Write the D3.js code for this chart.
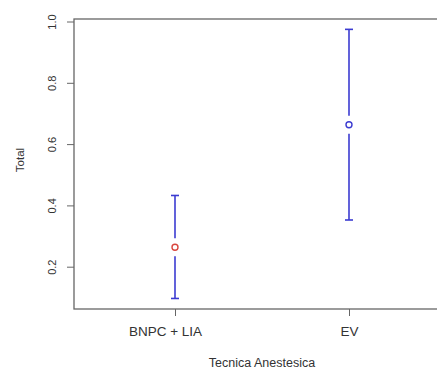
<!DOCTYPE html>
<html>
<head>
<meta charset="utf-8">
<script src="https://cdn.jsdelivr.net/npm/d3@7"></script>
<style>
  body { margin: 0; background: #fff; }
  text { font-family: "Liberation Sans", Arial, sans-serif; }
</style>
</head>
<body>
<div class="canvas"></div>
<script>
// data
const categories = ['BNPC + LIA', 'EV'];
const means = [0.265, 0.665];
const lower = [0.098, 0.354];
const upper = [0.434, 0.976];
const pointColors = ['#d9463e', '#3b3bd1'];
const yTicks = [0.2, 0.4, 0.6, 0.8, 1.0];

const width = 437;
const height = 369;

const svg = d3.select('.canvas').append('svg')
  .attr('width', width)
  .attr('height', height);

// box edges (right side runs off the picture)
const box = { left: 74, top: 19, right: 450, bottom: 309 };

const x = d3.scalePoint()
  .domain(categories)
  .range([175, 349]);

const y = d3.scaleLinear()
  .domain([0, 1])
  .range([328.5, 22]);

const axisColor = '#666';

// box
svg.append('rect')
  .attr('x', box.left)
  .attr('y', box.top)
  .attr('width', box.right - box.left)
  .attr('height', box.bottom - box.top)
  .attr('fill', 'none')
  .attr('stroke', axisColor)
  .attr('stroke-width', 1.3);

// y axis
const yAxis = d3.axisLeft(y)
  .tickValues(yTicks)
  .tickSize(7)
  .tickFormat(d3.format('.1f'));

const yAxisGroup = svg.append('g')
  .attr('transform', `translate(${box.left}, 0)`)
  .call(yAxis);

yAxisGroup.select('.domain').remove();
yAxisGroup.selectAll('line').attr('stroke', axisColor);
yAxisGroup.selectAll('.tick').attr('transform', null);
yAxisGroup.selectAll('.tick line')
  .attr('y1', d => y(d))
  .attr('y2', d => y(d));
yAxisGroup.selectAll('text')
  .attr('x', 0)
  .attr('y', 0)
  .attr('dy', 0)
  .attr('transform', d => `translate(-18, ${y(d)}) rotate(-90)`)
  .attr('text-anchor', 'middle')
  .attr('font-size', 11)
  .attr('fill', '#333');

// x axis
const xAxis = d3.axisBottom(x).tickSize(7).tickPadding(10);
const xAxisGroup = svg.append('g')
  .attr('transform', `translate(0, ${box.bottom})`)
  .call(xAxis);

xAxisGroup.select('.domain').remove();
xAxisGroup.selectAll('line').attr('stroke', axisColor);
xAxisGroup.selectAll('text')
  .attr('font-family', '"DejaVu Sans", sans-serif')
  .attr('font-size', 13.5)
  .attr('fill', '#333')
  .attr('dx', (d, i) => i === 0 ? -10 : 0);

// axis titles
svg.append('text')
  .attr('x', 262)
  .attr('y', 367)
  .attr('text-anchor', 'middle')
  .attr('font-size', 12.5)
  .attr('fill', '#333')
  .text('Tecnica Anestesica');

svg.append('text')
  .attr('transform', 'translate(24, 160) rotate(-90)')
  .attr('text-anchor', 'middle')
  .attr('font-size', 11.5)
  .attr('fill', '#333')
  .text('Total');

// error bars with gap around the point
const gap = 9;
const cap = 4;
const bars = svg.append('g')
  .attr('stroke', '#3b3bd1')
  .attr('stroke-width', 1.6);

categories.forEach((c, i) => {
  const cx = x(c);
  bars.append('line')
    .attr('x1', cx).attr('x2', cx)
    .attr('y1', y(upper[i])).attr('y2', y(means[i]) - gap);
  bars.append('line')
    .attr('x1', cx).attr('x2', cx)
    .attr('y1', y(means[i]) + gap).attr('y2', y(lower[i]));
  bars.append('line')
    .attr('x1', cx - cap).attr('x2', cx + cap)
    .attr('y1', y(upper[i])).attr('y2', y(upper[i]));
  bars.append('line')
    .attr('x1', cx - cap).attr('x2', cx + cap)
    .attr('y1', y(lower[i])).attr('y2', y(lower[i]));
});

svg.selectAll('circle.pt')
  .data(means)
  .enter().append('circle')
  .attr('class', 'pt')
  .attr('cx', (d, i) => x(categories[i]))
  .attr('cy', d => y(d))
  .attr('r', 3)
  .attr('fill', 'none')
  .attr('stroke', (d, i) => pointColors[i])
  .attr('stroke-width', 1.4);
</script>
</body>
</html>
